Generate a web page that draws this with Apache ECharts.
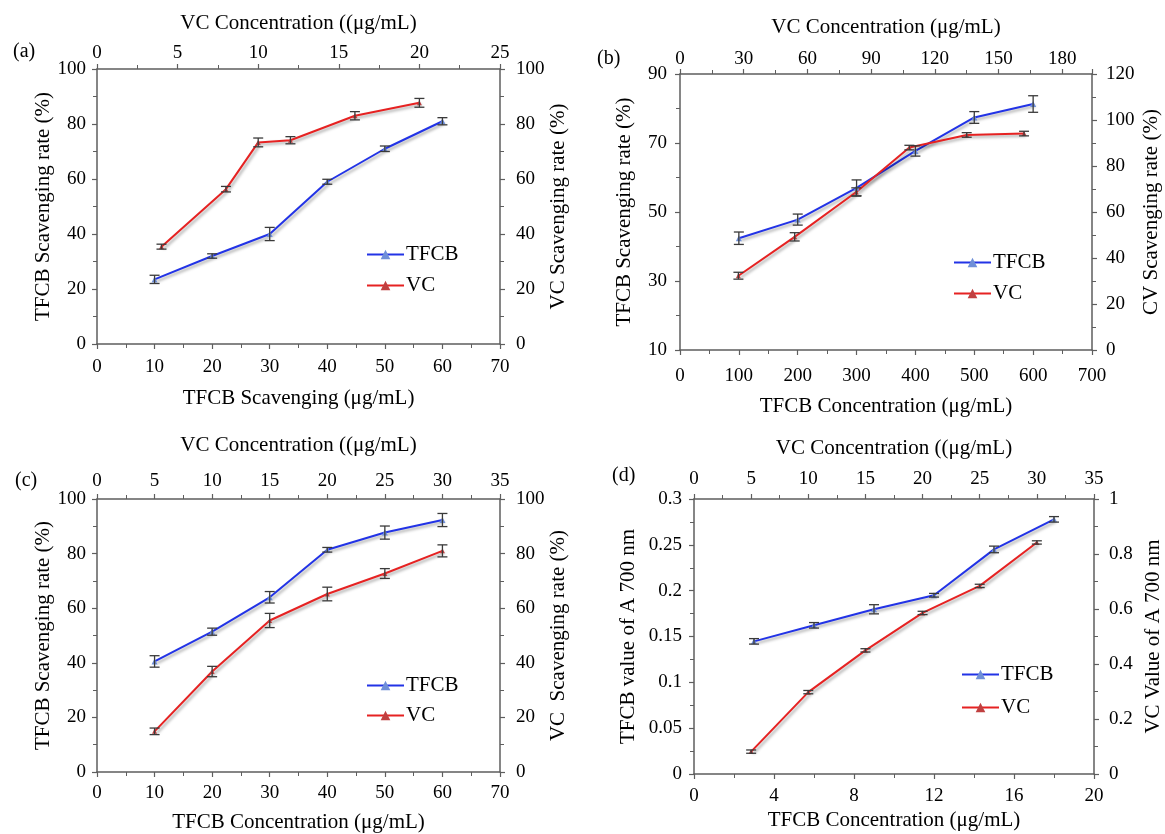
<!DOCTYPE html>
<html>
<head>
<meta charset="utf-8">
<script src="https://cdn.jsdelivr.net/npm/echarts@6/dist/echarts.min.js"></script>
<style>html,body{margin:0;padding:0;background:#fff}#c{width:1165px;height:834px}</style>
</head>
<body>
<div id="c"></div>
<script>
// ---------- Data ----------
// Panel (a)
const aTfcbX = [10, 20, 30, 40, 50, 60];
const aTfcbY = [23.5, 32, 40, 59, 71, 81];
const aTfcbErr = [1.5, 0.8, 2.4, 0.9, 1.0, 1.3];
const aVcX = [4, 8, 10, 12, 16, 20];
const aVcY = [35.4, 56.3, 73.3, 74.1, 83, 87.7];
const aVcErr = [0.9, 1.0, 1.6, 1.3, 1.5, 1.6];
// Panel (b)
const bTfcbX = [100, 200, 300, 400, 500, 600];
const bTfcbY = [42.4, 47.8, 57, 67.7, 77.4, 81.3];
const bTfcbErr = [1.8, 1.6, 2.3, 1.5, 1.7, 2.4];
const bVcX = [27.5, 54, 83, 108, 135, 162];
const bVcY = [32.3, 49.2, 68.7, 88, 93.5, 94.1];
const bVcErr = [1.5, 1.8, 1.8, 1.0, 1.0, 1.0];
// Panel (c)
const cTfcbX = [10, 20, 30, 40, 50, 60];
const cTfcbY = [40.5, 51.4, 64, 81.4, 87.7, 92.3];
const cTfcbErr = [2.1, 1.3, 2.1, 0.85, 2.4, 2.4];
const cVcX = [5, 10, 15, 20, 25, 30];
const cVcY = [14.9, 36.8, 55.5, 65.2, 72.7, 81];
const cVcErr = [1.2, 1.9, 2.6, 2.5, 1.8, 2.2];
// Panel (d)
const dTfcbX = [3, 6, 9, 12, 15, 18];
const dTfcbY = [0.1447, 0.1622, 0.1797, 0.195, 0.245, 0.2778];
const dTfcbErr = [0.003, 0.003, 0.005, 0.002, 0.0036, 0.003];
const dVcX = [5, 10, 15, 20, 25, 30];
const dVcY = [0.0814, 0.2977, 0.4496, 0.5857, 0.684, 0.842];
const dVcErr = [0.006, 0.006, 0.006, 0.006, 0.006, 0.006];

// Axis names
const panelLabels = ['(a)', '(b)', '(c)', '(d)'];
const bottomNames = ['TFCB Scavenging (μg/mL)', 'TFCB Concentration (μg/mL)', 'TFCB Concentration (μg/mL)', 'TFCB Concentration (μg/mL)'];
const topNames = ['VC Concentration ((μg/mL)', 'VC Concentration (μg/mL)', 'VC Concentration ((μg/mL)', 'VC Concentration ((μg/mL)'];
const leftNames = ['TFCB Scavenging rate (%)', 'TFCB Scavenging rate (%)', 'TFCB Scavenging rate (%)', 'TFCB value of A 700 nm'];
const rightNames = ['VC Scavenging rate (%)', 'CV Scavenging rate (%)', 'VC  Scavenging rate (%)', 'VC Value of A 700 nm'];

// ---------- Styles ----------
const FONT = "'Liberation Serif','Times New Roman',serif";
const AXC = '#5e5e5e';
const BLUE = '#2233e6';
const RED = '#e62222';

const grids = [
  {left: 97, top: 69, width: 403, height: 275},
  {left: 680, top: 74, width: 412, height: 276},
  {left: 97, top: 499, width: 403, height: 275},
  {left: 694, top: 499, width: 400, height: 275}
];

// axis config per panel: [min,max,interval]
const bottomCfg = [[0, 70, 10], [0, 700, 100], [0, 70, 10], [0, 20, 4]];
const topCfg = [[0, 25, 5], [0, 194, 30], [0, 35, 5], [0, 35, 5]];
const leftCfg = [[0, 100, 20], [10, 90, 20], [0, 100, 20], [0, 0.3, 0.05]];
const rightCfg = [[0, 100, 20], [0, 120, 20], [0, 100, 20], [0, 1, 0.2]];

const bottomGap = [44, 46, 40, 36];
const bottomMargin = [14, 17, 12, 13];
const topGap = [35, 36, 43, 40];
const topMargin = [6, 5, 8, 10];
const leftGap = [42, 45, 42, 55];
const leftMargin = [11, 13, 11, 12];
const rightGap = [47, 49, 46, 49];
const rightMargin = [16, 14, 16, 15];

function baseAxis(cfg) {
  const iv = cfg[2];
  return {
    type: 'value', min: cfg[0], max: cfg[1], interval: iv,
    axisLine: {show: true, onZero: false, lineStyle: {color: AXC, width: 1.5}},
    axisTick: {show: true, inside: false, length: 5, lineStyle: {color: AXC, width: 1.2}},
    minorTick: {show: true, splitNumber: 2, length: 4, lineStyle: {color: AXC, width: 1}},
    splitLine: {show: false},
    axisLabel: {
      color: '#000', fontFamily: FONT, fontSize: 19,
      formatter: function (v) {
        const k = (v - cfg[0]) / iv;
        if (Math.abs(k - Math.round(k)) > 1e-6) return '';
        return String(Math.round(v * 1000) / 1000);
      }
    },
    nameTextStyle: {color: '#000', fontFamily: FONT, fontSize: 21},
    nameLocation: 'middle'
  };
}

const xAxes = [], yAxes = [];
for (let i = 0; i < 4; i++) {
  const bx = baseAxis(bottomCfg[i]);
  Object.assign(bx, {gridIndex: i, position: 'bottom', name: bottomNames[i], nameGap: bottomGap[i]});
  bx.axisLabel.margin = bottomMargin[i];
  xAxes.push(bx);
  const tx = baseAxis(topCfg[i]);
  Object.assign(tx, {gridIndex: i, position: 'top', name: topNames[i], nameGap: topGap[i]});
  tx.axisLabel.margin = topMargin[i];
  xAxes.push(tx);
  const ly = baseAxis(leftCfg[i]);
  Object.assign(ly, {gridIndex: i, position: 'left', name: leftNames[i], nameGap: leftGap[i], nameRotate: 90});
  ly.axisLabel.margin = leftMargin[i];
  yAxes.push(ly);
  const ry = baseAxis(rightCfg[i]);
  Object.assign(ry, {gridIndex: i, position: 'right', name: rightNames[i], nameGap: rightGap[i], nameRotate: 90});
  ry.axisLabel.margin = rightMargin[i];
  yAxes.push(ry);
}

const panels = [
  [aTfcbX, aTfcbY, aTfcbErr, aVcX, aVcY, aVcErr],
  [bTfcbX, bTfcbY, bTfcbErr, bVcX, bVcY, bVcErr],
  [cTfcbX, cTfcbY, cTfcbErr, cVcX, cVcY, cVcErr],
  [dTfcbX, dTfcbY, dTfcbErr, dVcX, dVcY, dVcErr]
];

function zip(xs, ys) { return xs.map((x, k) => [x, ys[k]]); }
function zip3(xs, ys, es) { return xs.map((x, k) => [x, ys[k], es[k]]); }

function errRender(params, api) {
  const x = api.value(0), y = api.value(1), e = api.value(2);
  const hi = api.coord([x, y + e]);
  const lo = api.coord([x, y - e]);
  const cap = 5;
  const st = {stroke: '#3a3a3a', lineWidth: 1.3};
  return {
    type: 'group',
    children: [
      {type: 'line', shape: {x1: hi[0], y1: hi[1], x2: lo[0], y2: lo[1]}, style: st},
      {type: 'line', shape: {x1: hi[0] - cap, y1: hi[1], x2: hi[0] + cap, y2: hi[1]}, style: st},
      {type: 'line', shape: {x1: lo[0] - cap, y1: lo[1], x2: lo[0] + cap, y2: lo[1]}, style: st}
    ]
  };
}

const series = [];
panels.forEach((p, i) => {
  const shadow = {shadowColor: 'rgba(0,0,0,0.35)', shadowBlur: 3, shadowOffsetX: 2, shadowOffsetY: 2};
  series.push({
    name: 'TFCB', type: 'line', xAxisIndex: 2 * i, yAxisIndex: 2 * i,
    data: zip(p[0], p[1]), symbol: 'triangle', symbolSize: 6,
    lineStyle: Object.assign({color: BLUE, width: 2}, shadow),
    itemStyle: {color: '#6f8fd8'}, z: 3
  });
  series.push({
    name: 'VC', type: 'line', xAxisIndex: 2 * i + 1, yAxisIndex: 2 * i + 1,
    data: zip(p[3], p[4]), symbol: 'triangle', symbolSize: 5,
    lineStyle: Object.assign({color: RED, width: 2}, shadow),
    itemStyle: {color: '#c04040'}, z: 3
  });
  series.push({
    name: 'errT' + i, type: 'custom', xAxisIndex: 2 * i, yAxisIndex: 2 * i,
    data: zip3(p[0], p[1], p[2]), renderItem: errRender, encode: {x: 0, y: 1}, z: 4, silent: true
  });
  series.push({
    name: 'errV' + i, type: 'custom', xAxisIndex: 2 * i + 1, yAxisIndex: 2 * i + 1,
    data: zip3(p[3], p[4], p[5]), renderItem: errRender, encode: {x: 0, y: 1}, z: 4, silent: true
  });
});

const legendPos = [
  {left: 366, top: 244, gap: 10},
  {left: 953, top: 252, gap: 10},
  {left: 366, top: 675, gap: 9},
  {left: 961, top: 664, gap: 12}
];
const legends = legendPos.map(lp => ({
  data: ['TFCB', 'VC'], orient: 'vertical', left: lp.left, top: lp.top, itemGap: lp.gap,
  itemWidth: 37, itemHeight: 12, padding: 0,
  textStyle: {color: '#000', fontFamily: FONT, fontSize: 21, lineHeight: 21, padding: [0, 0, 0, -3]}
}));

const labelPos = [[13, 42], [597, 49], [15, 471], [612, 466]];
const titles = labelPos.map((lp, i) => ({
  text: panelLabels[i], left: lp[0], top: lp[1], padding: 0,
  textStyle: {color: '#000', fontFamily: FONT, fontSize: 20, fontWeight: 'normal'}
}));

const chart = echarts.init(document.getElementById('c'));
chart.setOption({
  animation: false,
  backgroundColor: '#fff',
  title: titles,
  legend: legends,
  grid: grids,
  xAxis: xAxes,
  yAxis: yAxes,
  series: series
});
</script>
</body>
</html>
